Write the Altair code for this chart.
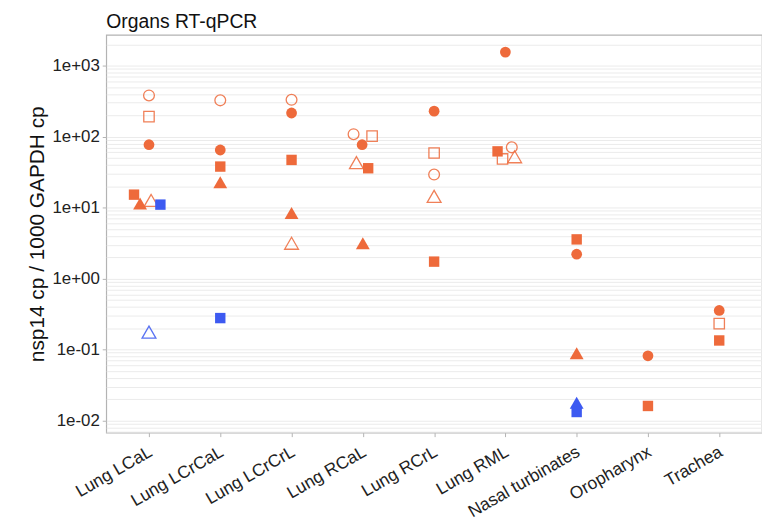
import altair as alt
import pandas as pd

organs = ["Lung LCaL", "Lung LCrCaL", "Lung LCrCrL", "Lung RCaL", "Lung RCrL",
          "Lung RML", "Nasal turbinates", "Oropharynx", "Trachea"]

# one entry per point
organ = [1, 1, 1, 1, 1, 1, 1, 1,
         2, 2, 2, 2, 2,
         3, 3, 3, 3, 3,
         4, 4, 4, 4, 4, 4,
         5, 5, 5, 5, 5,
         6, 6, 6, 6, 6,
         7, 7, 7, 7, 7,
         8, 8,
         9, 9, 9]
value = [380, 191, 76.8, 15.2, 11.4, 12.6, 11.0, 0.176,
         324, 64.7, 37.8, 22.8, 0.277,
         330, 215, 46.9, 8.4, 3.14,
         108, 101.6, 76.8, 43, 35.8, 3.14,
         228, 58.7, 29.2, 14.4, 1.73,
         1550, 61.9, 48.4, 70.5, 52,
         3.56, 2.20, 0.0887, 0.0177, 0.01315,
         0.0815, 0.016,
         0.355, 0.231, 0.134]
group = ["A", "A", "A", "A", "A", "A", "B", "B",
         "A", "A", "A", "A", "B",
         "A", "A", "A", "A", "A",
         "A", "A", "A", "A", "A", "A",
         "A", "A", "A", "A", "A",
         "A", "A", "A", "A", "A",
         "A", "A", "A", "B", "B",
         "A", "A",
         "A", "A", "A"]
shape = ["circle", "square", "circle", "square", "triangle", "triangle", "square", "triangle",
         "circle", "circle", "square", "triangle", "square",
         "circle", "circle", "square", "triangle", "triangle",
         "circle", "square", "circle", "triangle", "square", "triangle",
         "circle", "square", "circle", "triangle", "square",
         "circle", "square", "square", "circle", "triangle",
         "square", "circle", "triangle", "triangle", "square",
         "circle", "square",
         "circle", "square", "square"]
filled = [False, False, True, True, True, False, True, False,
          False, True, True, True, True,
          False, True, True, True, False,
          False, False, True, False, True, True,
          True, False, False, False, True,
          True, True, False, False, False,
          True, True, True, True, True,
          True, True,
          True, False, True]
jitter = [0, 0, 0, -0.21, -0.125, 0.03, 0.16, 0,
          0, 0, 0, 0, 0,
          0, 0, 0, 0, 0,
          -0.13, 0.13, -0.01, -0.09, 0.075, 0,
          0, 0, 0, 0, 0,
          0, -0.11, -0.04, 0.09, 0.13,
          0, 0, 0, 0, 0,
          0, 0,
          0, 0, 0]

df = pd.DataFrame(dict(organ=organ, value=value, group=group, shape=shape,
                       filled=filled, jitter=jitter))

y_lo, y_hi = 0.00673, 2716
grid_vals = [m * 10.0 ** k for k in range(-3, 4) for m in range(1, 10)]
grid_vals = [v for v in grid_vals if y_lo <= v <= y_hi]

is_major = "abs(log(datum.value)/LN10 - round(log(datum.value)/LN10)) < 0.001"
y_label = (f"({is_major}) ? '1e' + (datum.value < 1 ? '-' : '+') + '0' + "
           "abs(round(log(datum.value)/LN10)) : ''")
x_label = "[" + ",".join(f"'{o}'" for o in organs) + "][round(datum.value) - 1]"

FONT = "Liberation Sans"

x_enc = alt.X("xpos:Q",
              scale=alt.Scale(domain=[0.4, 9.6], nice=False, zero=False),
              axis=alt.Axis(values=list(range(1, 10)), labelExpr=x_label, grid=False,
                            title=None, labelAngle=-30, labelAlign="right",
                            labelBaseline="top", labelFlush=False, labelOverlap=False,
                            labelPadding=6, labelOffset=-3, labelFontSize=17.5,
                            tickSize=4, domain=False))
y_enc = alt.Y("value:Q",
              scale=alt.Scale(type="log", domain=[y_lo, y_hi], nice=False, zero=False),
              axis=alt.Axis(values=grid_vals, labelExpr=y_label, labelOverlap=False,
                            title="nsp14 cp / 1000 GAPDH cp", titlePadding=4,
                            tickSize=4, labelPadding=3, domain=False,
                            tickOpacity={"condition": {"test": is_major, "value": 1},
                                         "value": 0}))
color_enc = alt.Color("group:N", scale=alt.Scale(domain=["A", "B"],
                                                 range=["#EE6A3B", "#3D5AF1"]), legend=None)
shape_enc = alt.Shape("shape:N", scale=alt.Scale(domain=["circle", "square", "triangle"],
                                                 range=["circle", "square", "triangle-up"]),
                      legend=None)
size_enc = alt.Size("msize:Q", scale=None, legend=None)

base = alt.Chart(df).transform_calculate(
    xpos="datum.organ + datum.jitter",
    msize="datum.shape == 'triangle' ? 195 : (datum.shape == 'square' ? 110 : 118)",
)

open_layer = base.transform_filter("!datum.filled").mark_point(
    filled=False, strokeWidth=1.3, opacity=0.85
).encode(x=x_enc, y=y_enc, color=color_enc, shape=shape_enc, size=size_enc)

filled_layer = base.transform_filter("datum.filled").mark_point(
    filled=True, opacity=1, strokeWidth=0
).encode(x=x_enc, y=y_enc, color=color_enc, shape=shape_enc, size=size_enc)

chart = alt.layer(open_layer, filled_layer).properties(
    width=661, height=401,
    title=alt.Title("Organs RT-qPCR", anchor="start", frame="group", fontSize=19.5,
                    font=FONT, fontWeight="normal", color="#111", offset=-13,
                    baseline="alphabetic"),
    padding={"left": 99, "top": 25, "right": 0, "bottom": 86},
    autosize="none",
).configure_view(stroke="#b3b3b3", strokeWidth=1.2).configure_axis(
    labelFont=FONT, titleFont=FONT, labelFontSize=17, titleFontSize=21,
    labelColor="#222", titleColor="#111", titleFontWeight="normal",
    tickColor="#b3b3b3", gridColor="#ebebeb", gridWidth=1,
)

chart.save("out.html", embed_options={"renderer": "svg", "actions": False})
